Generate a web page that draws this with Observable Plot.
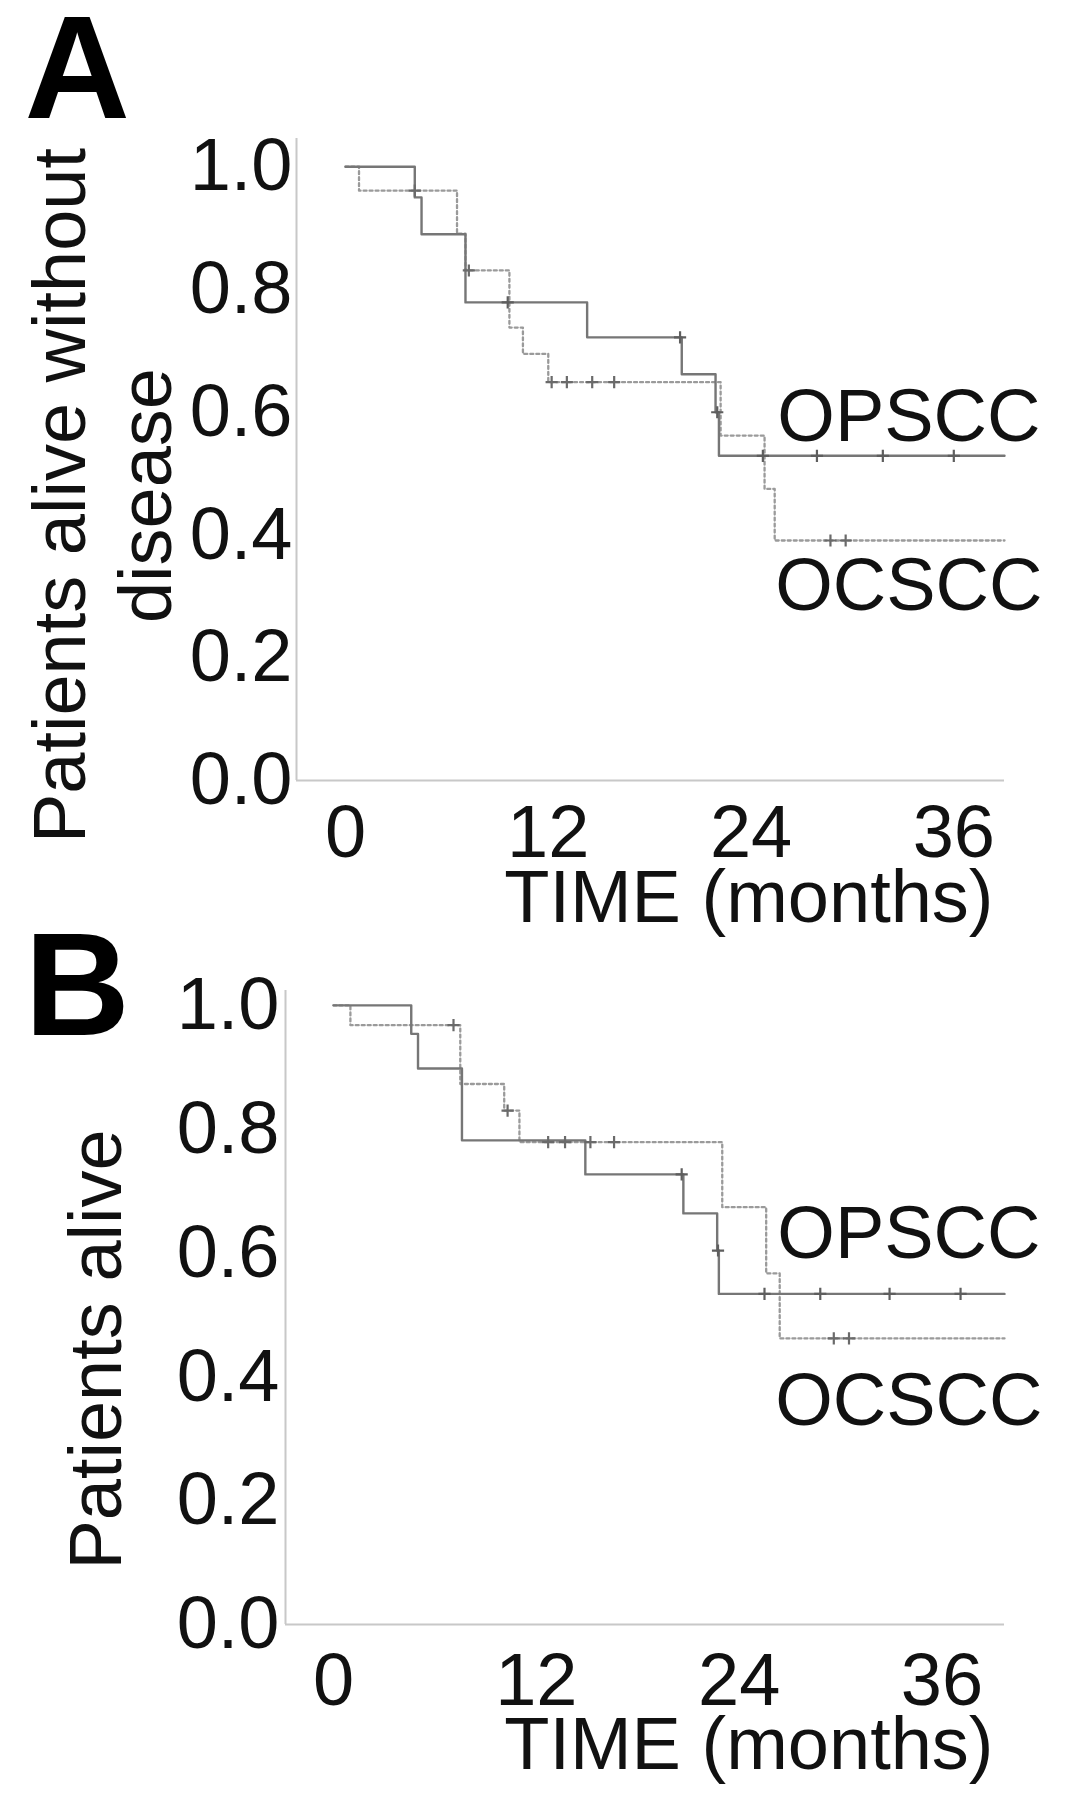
<!DOCTYPE html>
<html>
<head>
<meta charset="utf-8">
<script src="https://cdn.jsdelivr.net/npm/d3@7"></script>
<script src="https://cdn.jsdelivr.net/npm/@observablehq/plot@0.6"></script>
<style>
  html, body { margin: 0; padding: 0; background: #fff; }
  #chart svg { display: block; }
</style>
</head>
<body>
<div id="chart"></div>
<script>
// ---------- data ----------
const seriesNames = ["OPSCC", "OCSCC"];
const xTicks = [0, 12, 24, 36];
const yTicks = [0, 0.2, 0.4, 0.6, 0.8, 1.0];

// Panel A: Patients alive without disease
const aOpTime   = [0, 4.1, 4.5, 7.1, 14.3, 19.9, 21.9, 22.1, 39.0];
const aOpSurv   = [1.0, 0.950, 0.890, 0.779, 0.722, 0.662, 0.600, 0.529, 0.529];
const aOpCensor = [9.6, 19.8, 22.0, 24.7, 27.9, 31.8, 36.0];
const aOcTime   = [0, 0.8, 6.6, 7.1, 9.7, 10.5, 12.0, 22.2, 24.8, 25.4, 39.0];
const aOcSurv   = [1.0, 0.961, 0.891, 0.831, 0.738, 0.695, 0.649, 0.562, 0.475, 0.391, 0.391];
const aOcCensor = [4.1, 7.3, 12.2, 13.1, 14.6, 15.9, 28.7, 29.6];

// Panel B: Patients alive
const bOpTime   = [0, 4.6, 5.0, 7.6, 14.9, 20.7, 22.7, 22.8, 39.7];
const bOpSurv   = [1.0, 0.954, 0.898, 0.782, 0.727, 0.664, 0.604, 0.534, 0.534];
const bOpCensor = [20.6, 22.75, 25.5, 28.8, 32.9, 37.1];
const bOcTime   = [0, 1.0, 7.5, 10.1, 11.0, 23.0, 25.6, 26.4, 39.7];
const bOcSurv   = [1.0, 0.968, 0.873, 0.830, 0.779, 0.674, 0.567, 0.462, 0.462];
const bOcCensor = [7.1, 10.3, 12.7, 13.7, 15.2, 16.6, 29.6, 30.5];

// ---------- helpers ----------
const FONT = "'Liberation Sans', Arial, Helvetica, sans-serif";
function toPoints(times, surv) { return times.map((t, i) => ({t, s: surv[i]})); }
function stepAt(times, surv, t) {
  let v = surv[0];
  for (let i = 0; i < times.length; ++i) if (times[i] <= t) v = surv[i];
  return v;
}
function censorPoints(times, surv, cens) { return cens.map(t => ({t, s: stepAt(times, surv, t)})); }

function panel(cfg) {
  const op = toPoints(cfg.opTime, cfg.opSurv);
  const oc = toPoints(cfg.ocTime, cfg.ocSurv);
  const opC = censorPoints(cfg.opTime, cfg.opSurv, cfg.opCensor);
  const ocC = censorPoints(cfg.ocTime, cfg.ocSurv, cfg.ocCensor);
  const opLabel = [{name: seriesNames[0], s: cfg.opSurv[cfg.opSurv.length - 1]}];
  const ocLabel = [{name: seriesNames[1], s: cfg.ocSurv[cfg.ocSurv.length - 1]}];
  return Plot.plot({
    width: 1071,
    height: cfg.height,
    marginLeft: cfg.marginLeft,
    marginRight: 67,
    marginTop: cfg.marginTop,
    marginBottom: cfg.marginBottom,
    style: {fontFamily: FONT, fontSize: "74px", color: "#111", background: "#fff", overflow: "visible"},
    x: {domain: cfg.xDomain},
    y: {domain: cfg.yDomain},
    marks: [
      Plot.ruleY([0], {stroke: "#c8c8c8", strokeWidth: 2}),
      Plot.ruleX([cfg.xDomain[0]], {y1: 0, y2: cfg.yDomain[1], stroke: "#c8c8c8", strokeWidth: 2}),
      Plot.axisX({ticks: xTicks, tickSize: 0, tickPadding: cfg.xPad, label: null, fontSize: 74}),
      Plot.axisY({ticks: yTicks, tickSize: 0, tickPadding: cfg.yPad, label: null, fontSize: 74,
                  tickFormat: d3.format(".1f")}),
      Plot.line(oc, {x: "t", y: "s", curve: "step-after", stroke: "#9a9a9a", strokeWidth: 2.3, strokeDasharray: "3,3"}),
      Plot.line(op, {x: "t", y: "s", curve: "step-after", stroke: "#767676", strokeWidth: 2.4}),
      Plot.dot(ocC, {x: "t", y: "s", symbol: "plus", r: 4, stroke: "#6a6a6a", strokeWidth: 2.2}),
      Plot.dot(opC, {x: "t", y: "s", symbol: "plus", r: 4, stroke: "#5e5e5e", strokeWidth: 2.2}),
      Plot.text(opLabel, {y: "s", text: "name", frameAnchor: "right",
        textAnchor: "end", lineAnchor: "bottom", dx: 36, dy: cfg.opLabelDy, fontSize: 74, fill: "#111"}),
      Plot.text(ocLabel, {y: "s", text: "name", frameAnchor: "right",
        textAnchor: "end", lineAnchor: "top", dx: 38, dy: cfg.ocLabelDy, fontSize: 74, fill: "#111"}),
      Plot.text([cfg.yTitle], {text: d => d, frameAnchor: "left", rotate: -90, textAnchor: "middle",
        lineAnchor: "bottom", lineHeight: 1.16, dx: cfg.yTitleDx, dy: cfg.yTitleDy, fontSize: 74, fill: "#111"}),
      Plot.text(["TIME (months)"], {text: d => d, frameAnchor: "bottom-right", textAnchor: "end",
        lineAnchor: "bottom", dx: -11, dy: cfg.xTitleDy, fontSize: 74, fill: "#111"}),
      Plot.text([cfg.letter], {text: d => d, frameAnchor: "top-left", textAnchor: "start",
        lineAnchor: "bottom", dx: cfg.letterDx, dy: cfg.letterDy, fontSize: 146, fontWeight: "bold", fill: "#000"})
    ]
  });
}

const chart = document.getElementById("chart");
chart.append(panel({
  letter: "A", yTitle: "Patients alive without\ndisease",
  height: 930, marginLeft: 296, marginTop: 138, marginBottom: 150,
  xDomain: [-2.9, 39.0], yDomain: [0, 1.046],
  opTime: aOpTime, opSurv: aOpSurv, opCensor: aOpCensor,
  ocTime: aOcTime, ocSurv: aOcSurv, ocCensor: aOcCensor,
  xPad: 24, yPad: 4, opLabelDy: -15, ocLabelDy: 17,
  yTitleDx: -126, yTitleDy: 36, xTitleDy: 141, letterDx: -272, letterDy: -21
}));
chart.append(panel({
  letter: "B", yTitle: "Patients alive",
  height: 870, marginLeft: 285, marginTop: 60, marginBottom: 176,
  xDomain: [-2.84, 39.7], yDomain: [0, 1.024],
  opTime: bOpTime, opSurv: bOpSurv, opCensor: bOpCensor,
  ocTime: bOcTime, ocSurv: bOcSurv, ocCensor: bOcCensor,
  xPad: 28, yPad: 6, opLabelDy: -36, ocLabelDy: 34,
  yTitleDx: -165, yTitleDy: 42, xTitleDy: 144, letterDx: -261, letterDy: 44
}));
</script>
</body>
</html>
